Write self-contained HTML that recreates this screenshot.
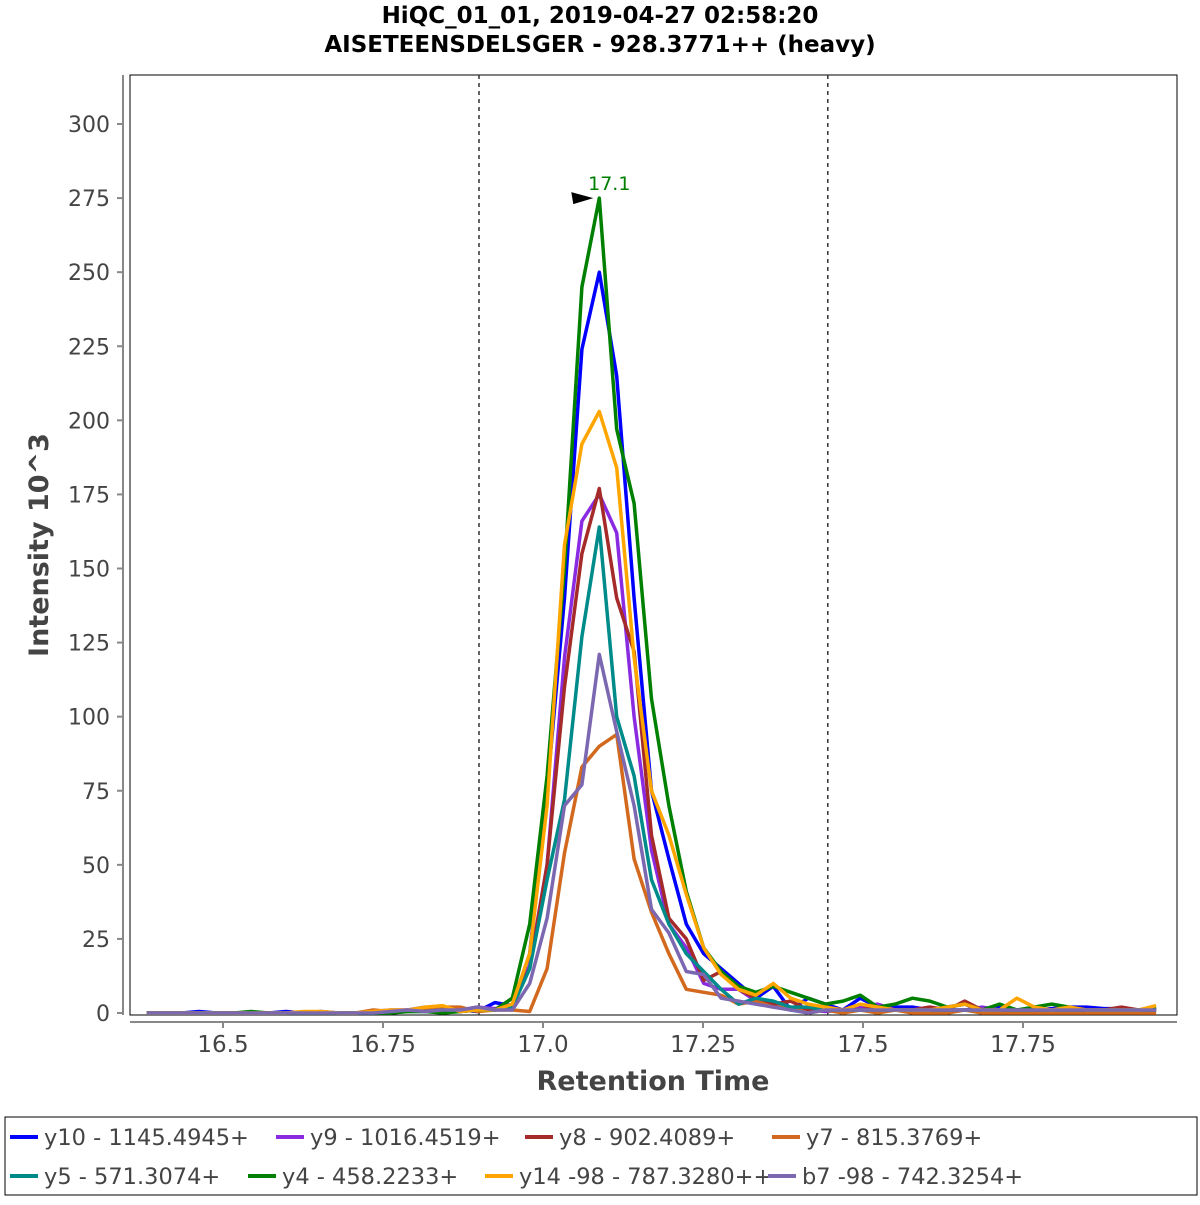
<!DOCTYPE html>
<html><head><meta charset="utf-8"><style>
body{margin:0;background:#fff;font-family:"Liberation Sans","DejaVu Sans",sans-serif;}
svg text{font-family:"DejaVu Sans","Liberation Sans",sans-serif;}
</style></head><body>
<svg id="chart" width="1200" height="1200" xmlns="http://www.w3.org/2000/svg"></svg>
<script>
const t0 = 16.381, tStep = 0.02719;
const seriesNames = ["y10 - 1145.4945+","y9 - 1016.4519+","y8 - 902.4089+","y7 - 815.3769+","y5 - 571.3074+","y4 - 458.2233+","y14 -98 - 787.3280++","b7 -98 - 742.3254+"];
const seriesColors = ["#0000ff","#8a2be2","#a52a2a","#d2691e","#008b8b","#008000","#ffa500","#7b68b0"];
const y10 = [0,0,0,0.5,0,0,0,0,0.5,0,0.5,0,0,0,0.5,1,2,0.5,1,0.5,3.5,2.5,20,75,140,224,250,215,140,75,52,30,20,15,10,5,9,1,5,3,1,5,2,2,2,1,2,3,1,2,1,1,1.5,2,2,1.5,1.5,1,0.5];
const y9 = [0,0,0,0,0,0,0,0,0,0,0,0,0,0.5,1,1,0.5,2,1,2,1.5,2,16,50,120,166,175,162,100,55,30,22,10,8,8,4,3,2,1,0.5,1,2,3,1,1,2,1,1,2,1,1,1,1,1,1,1,1,1,1];
const y8 = [0,0,0,0,0,0,0,0,0,0,0,0,0,0.5,0.5,0.5,1,1,0.5,1,1,5,15,50,110,155,177,140,122,60,32,25,11,14,8,5,3,4,1,2,1,1,2,1,1,2,1,4,1,1,1,1,1,1,1,1,2,1,1];
const y7 = [0,0,0,0,0,0,0,0,0,0,0,0,0,1,0.5,0.5,1,2,2,0.5,1,1,0.5,15,54,83,90,94,52,34,20,8,7,6,3,4,2,2,0,1,0,1,0,1,0,0,0,1,0,0,0,0,0,0,0,0,0,0,0];
const y5 = [0,0,0,0,0,0,0,0,0,0,0,0,0,0,0,0.5,0.5,1,0.5,1,1,2,15,45,72,127,164,100,80,45,30,20,14,8,3,5,4,2,2,1,1,1,1,1,1,1,1,1,1,1,1,1,1,1,1,1,1,1,1];
const y4 = [0,0,0,0,0,0,0.5,0,0,0,0,0,0,0,0,0.5,0.5,0,0.5,1,1,5,30,80,150,245,275,197,172,106,70,41,22,14,9,7,9,7,5,3,4,6,2,3,5,4,2,3,1,3,1,2,3,2,1,1,1,1,2];
const y14 = [0,0,0,0,0,0,0,0,0,0.5,0.5,0,0,0.5,1,1,2,2.5,0.5,1,1,3,20,70,158,192,203,184,120,75,60,40,22,13,8,6,10,5,3,2,1,3,2,1,1,1,2,3,1,1,5,2,1,2,1,1,1,1,2.5];
const b7 = [0,0,0,0,0,0,0,0,0,0,0,0,0,0,0.5,1,0.5,1,1,2,1,1,10,32,70,77,121,95,70,35,27,14,13,5,4,3,2,1,0,1,1,1,1,1,1,1,1,1,1,1,1,1,1,1,1,1,1,1,1];
const seriesValues = [y10,y9,y8,y7,y5,y4,y14,b7];
const xTicks = [16.5,16.75,17.0,17.25,17.5,17.75];
const xTickLabels = ["16.5","16.75","17.0","17.25","17.5","17.75"];
const yTicks = [0,25,50,75,100,125,150,175,200,225,250,275,300];
const boundaries = [16.9,17.445];
const peakIndex = 26, peakLabel = "17.1";

const NS="http://www.w3.org/2000/svg";
const svg=document.getElementById('chart');
const X=t=>543+(t-17)*640;
const Y=v=>1013-v*2.9633;
function el(tag,attrs,parent){const e=document.createElementNS(NS,tag);for(const k in attrs)e.setAttribute(k,attrs[k]);(parent||svg).appendChild(e);return e;}
function txt(s,attrs,parent){const e=el('text',attrs,parent);e.textContent=s;return e;}

let e;
e=txt("HiQC_01_01, 2019-04-27 02:58:20",{x:600,y:23,'text-anchor':'middle','font-size':23,'font-weight':'bold',fill:'#000'});


e=txt("AISETEENSDELSGER - 928.3771++ (heavy)",{x:600,y:52,'text-anchor':'middle','font-size':23,'font-weight':'bold',fill:'#000'});



e=el('rect',{x:130,y:75,width:1047,height:940,fill:'#fff',stroke:'#000','stroke-width':1});


e=el('line',{x1:123,y1:75,x2:123,y2:1015,stroke:'#888','stroke-width':2});


e=el('line',{x1:130,y1:1022,x2:1177,y2:1022,stroke:'#888','stroke-width':2});



yTicks.forEach(v=>{
  const y=Y(v);
  const l=el('line',{x1:117,y1:y,x2:123,y2:y,stroke:'#888','stroke-width':2});
  
  
  const t=txt(String(v),{x:110,y:y+8,'text-anchor':'end','font-size':22,fill:'#444'});
  
  
});
xTicks.forEach((v,i)=>{
  const x=X(v);
  const l=el('line',{x1:x,y1:1022,x2:x,y2:1028,stroke:'#888','stroke-width':2});
  
  
  const t=txt(xTickLabels[i],{x:x,y:1052,'text-anchor':'middle','font-size':23,fill:'#444'});
  
  
});
e=txt("Retention Time",{x:653,y:1090,'text-anchor':'middle','font-size':27,'font-weight':'bold',fill:'#444'});


e=txt("Intensity 10^3",{x:0,y:0,'text-anchor':'middle','font-size':27,'font-weight':'bold',fill:'#444',transform:'translate(48,545) rotate(-90)'});



boundaries.forEach(b=>{
  const l=el('line',{x1:X(b),y1:75,x2:X(b),y2:1015,stroke:'#333','stroke-width':1.5,'stroke-dasharray':'4,4'});
  
  
});

seriesValues.forEach((vals,si)=>{
  const pts=vals.map((v,i)=>X(t0+i*tStep).toFixed(1)+','+Y(v).toFixed(1)).join(' ');
  const p=el('polyline',{points:pts,fill:'none',stroke:seriesColors[si],'stroke-width':3.5,'stroke-linejoin':'round'});
  
  
});

const px=X(t0+peakIndex*tStep), py=Y(y4[peakIndex]);
e=el('polygon',{points:`${px-6},${py} ${px-28},${py-6} ${px-26},${py+6}`,fill:'#000'});


e=txt(peakLabel,{x:px+10,y:py-8,'text-anchor':'middle','font-size':19,fill:'#008000'});



const lg=el('g',{});


el('rect',{x:5,y:1117,width:1192,height:78,fill:'#fff',stroke:'#000','stroke-width':1},lg);
const legendX=[10,276,525,772,10,248,485,768];
seriesNames.forEach((n,i)=>{
  const row=i<4?0:1, y=1137+row*39;
  const g=el('g',{},lg);
  
  
  el('line',{x1:legendX[i],y1:y,x2:legendX[i]+28,y2:y,stroke:seriesColors[i],'stroke-width':4},g);
  txt(n,{x:legendX[i]+34,y:y+8,'font-size':22.5,fill:'#444'},g);
});
</script>
</body></html>
